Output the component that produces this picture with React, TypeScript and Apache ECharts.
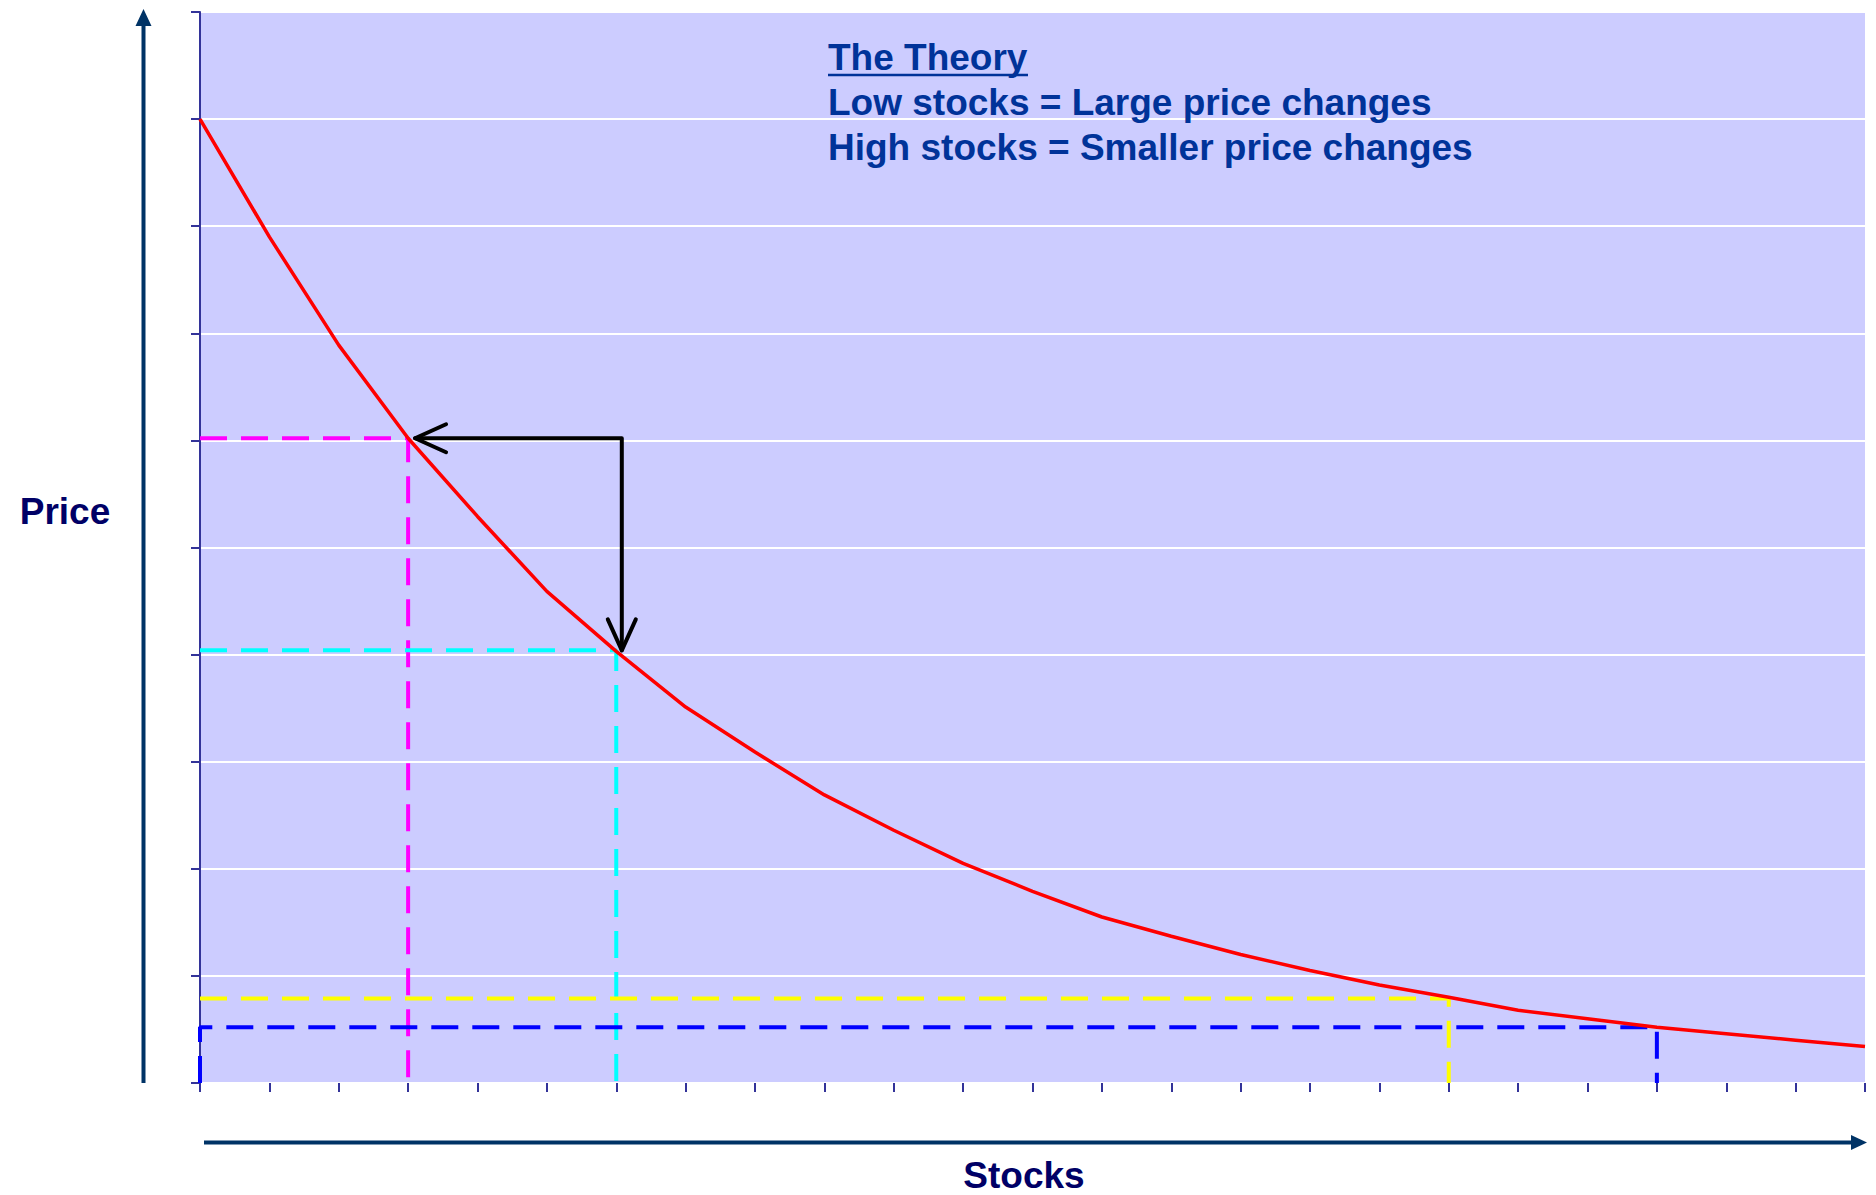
import React, { useEffect, useRef } from "react";
import * as echarts from "echarts";

// Stock level index along the x axis (0..24)
const stockIndex = [0, 1, 2, 3, 4, 5, 6, 7, 8, 9, 10, 11, 12, 13, 14, 15, 16, 17, 18, 19, 20, 21, 22, 23, 24];
// Price at each stock index
const priceValues = [9.0, 7.9, 6.89, 6.02, 5.29, 4.59, 4.03, 3.51, 3.09, 2.69, 2.36, 2.05, 1.79, 1.55, 1.37, 1.2, 1.05, 0.915, 0.8, 0.68, 0.6, 0.52, 0.46, 0.4, 0.34];

// Guide (dashed) lines: stock index and price level
const guideStock = [3, 6, 18, 21];
const guidePrice = [6.02, 4.04, 0.79, 0.52];
const guideNames = ["magenta", "cyan", "yellow", "blue"];

// Arrow: from (stock 6.08, price 6.02) left to stock 3.1, and down to price 4.04
const arrowPoint = [3.1, 6.02, 6.08, 4.04];

const theoryLines = ["The Theory", "Low stocks = Large price changes", "High stocks = Smaller price changes"];
const yAxisTitle = "Price";
const xAxisTitle = "Stocks";

const FONT = '"Liberation Sans", Arial, Helvetica, sans-serif';

export default function App() {
  const ref = useRef<HTMLDivElement>(null);

  useEffect(() => {
    if (!ref.current) return;
    const chart = echarts.init(ref.current, null, { renderer: "svg" });

    const guideColors = ["#FF00FF", "#00FFFF", "#FFFF00", "#0000FF"];
    const guideSeries = guideStock.map((s, i) => {
      const lvl = guidePrice[i];
      const data =
        i === 3
          ? [[0, 0], [0, lvl], [s, lvl], [s, 0]]
          : [[0, lvl], [s, lvl], [s, 0]];
      return {
        name: guideNames[i],
        type: "line",
        data,
        symbol: "none",
        silent: true,
        clip: false,
        z: 2,
        lineStyle: { color: guideColors[i], width: 4, type: [27, 14], cap: "butt" },
      };
    });

    const curve = stockIndex.map((s, i) => [s, priceValues[i]]);

    const textStyle = (text: string, size: number, fill: string, align: string) => ({
      text,
      font: `bold ${size}px ${FONT}`,
      fill,
      align,
      verticalAlign: "middle",
      textAlign: align,
      textVerticalAlign: "middle",
    });

    const option: any = {
      animation: false,
      backgroundColor: "#FFFFFF",
      grid: {
        left: 200,
        right: 11,
        top: 12,
        bottom: 112,
        show: true,
        backgroundColor: "#CCCCFF",
        borderWidth: 0,
      },
      xAxis: {
        type: "value",
        min: 0,
        max: 24,
        interval: 1,
        offset: 5,
        axisLine: { show: false },
        axisTick: { show: true, length: 9, lineStyle: { color: "#333399", width: 2 } },
        axisLabel: { show: false },
        splitLine: { show: false },
      },
      yAxis: {
        type: "value",
        min: 0,
        max: 10,
        interval: 1,
        axisLine: { show: true, lineStyle: { color: "#333399", width: 2 } },
        axisTick: { show: true, length: 9, lineStyle: { color: "#333399", width: 2 } },
        axisLabel: { show: false },
        splitLine: { show: true, lineStyle: { color: "#FFFFFF", width: 2 } },
      },
      series: [
        ...guideSeries,
        {
          name: "price",
          type: "line",
          data: curve,
          symbol: "none",
          silent: true,
          z: 3,
          lineStyle: { color: "#FF0000", width: 3.5 },
        },
        {
          name: "arrow",
          type: "custom",
          data: [arrowPoint],
          encode: { x: [0, 2], y: [1, 3] },
          silent: true,
          clip: false,
          z: 4,
          renderItem: (params: any, api: any) => {
            const tip1 = api.coord([api.value(0), api.value(1)]);
            const corner = api.coord([api.value(2), api.value(1)]);
            const tip2 = api.coord([api.value(2), api.value(3)]);
            const st = { stroke: "#000000", lineWidth: 4, fill: "none", lineCap: "round", lineJoin: "round" };
            return {
              type: "group",
              children: [
                { type: "polyline", shape: { points: [tip1, corner, tip2] }, style: st },
                {
                  type: "polyline",
                  shape: { points: [[tip1[0] + 31, tip1[1] - 14], tip1, [tip1[0] + 31, tip1[1] + 14]] },
                  style: st,
                },
                {
                  type: "polyline",
                  shape: { points: [[tip2[0] - 14, tip2[1] - 31], tip2, [tip2[0] + 14, tip2[1] - 31]] },
                  style: st,
                },
              ],
            };
          },
        },
      ],
      graphic: [
        // outer y arrow
        { type: "line", shape: { x1: 143.5, y1: 1083, x2: 143.5, y2: 22 }, style: { stroke: "#003366", lineWidth: 4 } },
        { type: "polygon", shape: { points: [[143.5, 9], [135.5, 26], [151.5, 26]] }, style: { fill: "#003366" } },
        // outer x arrow
        { type: "line", shape: { x1: 204, y1: 1142.5, x2: 1855, y2: 1142.5 }, style: { stroke: "#003366", lineWidth: 4 } },
        { type: "polygon", shape: { points: [[1867, 1142.5], [1851, 1135], [1851, 1150]] }, style: { fill: "#003366" } },
        // axis titles
        { type: "text", x: 65, y: 511, style: textStyle(yAxisTitle, 37, "#000066", "center") },
        { type: "text", x: 1024, y: 1175, style: textStyle(xAxisTitle, 37, "#000066", "center") },
        // theory text
        ...theoryLines.map((t, i) => ({
          type: "text",
          x: 828,
          y: 57.5 + i * 45,
          z: 10,
          style: textStyle(t, 37, "#003399", "left"),
        })),
        {
          type: "line",
          z: 10,
          shape: { x1: 828, y1: 75, x2: 1028, y2: 75 },
          style: { stroke: "#003399", lineWidth: 2.5 },
        },
      ],
    };

    chart.setOption(option);
    return () => chart.dispose();
  }, []);

  return (
    <div
      ref={ref}
      style={{ position: "fixed", left: 0, top: 0, width: 1876, height: 1195 }}
    />
  );
}
